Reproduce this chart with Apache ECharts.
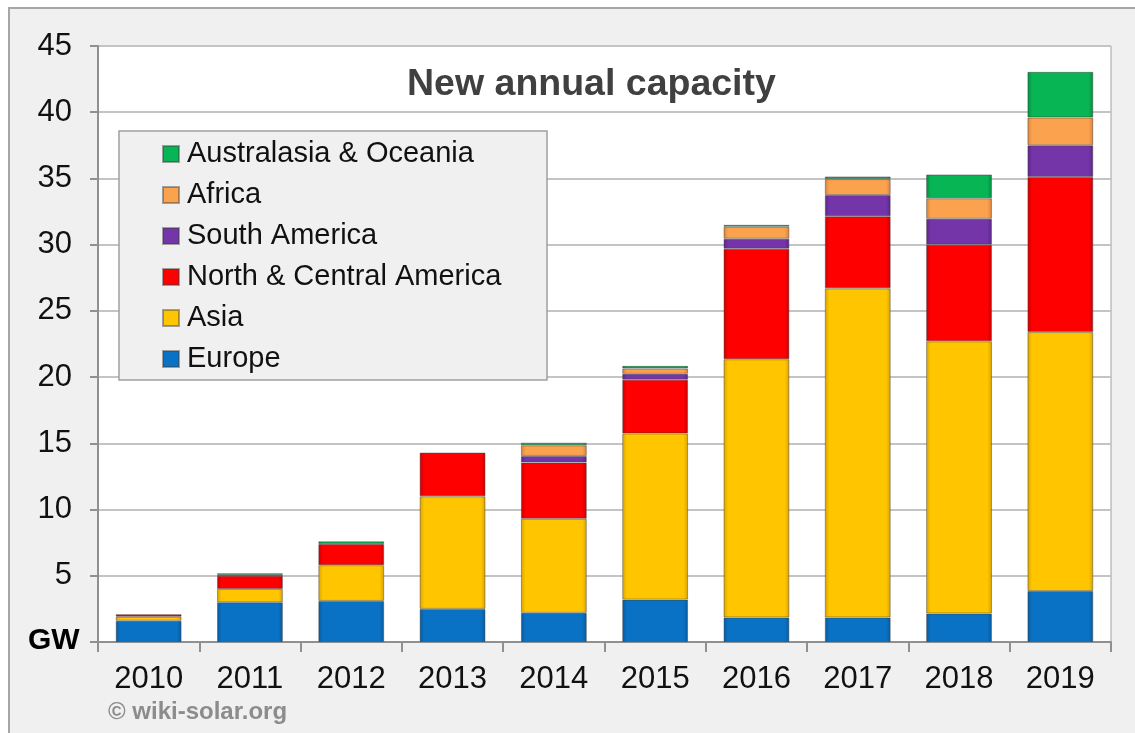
<!DOCTYPE html>
<html>
<head>
<meta charset="utf-8">
<script src="https://cdn.jsdelivr.net/npm/echarts@6/dist/echarts.min.js"></script>
<style>
html,body{margin:0;padding:0;background:#fff;}
#wrap{position:relative;width:1135px;height:733px;overflow:hidden;background:#fff;}
#frame{position:absolute;left:8px;top:7px;width:1140px;height:740px;background:#f0f0f0;border:2px solid #a6a6a6;box-sizing:border-box;}
#chart{position:absolute;left:0;top:0;width:1135px;height:733px;}
</style>
</head>
<body>
<div id="wrap"><div id="frame"></div><div id="chart"></div></div>
<script>
var years = ['2010','2011','2012','2013','2014','2015','2016','2017','2018','2019'];
var europe = [1.6, 3.0, 3.1, 2.5, 2.2, 3.2, 1.85, 1.85, 2.15, 3.85];
var asia = [0.3, 1.0, 2.7, 8.5, 7.1, 12.55, 19.5, 24.85, 20.55, 19.55];
var northCentralAmerica = [0.2, 1.0, 1.6, 3.3, 4.25, 4.05, 8.35, 5.45, 7.3, 11.7];
var southAmerica = [0, 0, 0, 0, 0.5, 0.45, 0.75, 1.6, 1.95, 2.4];
var africa = [0, 0.05, 0, 0, 0.8, 0.4, 0.9, 1.2, 1.55, 2.1];
var australasia = [0, 0.15, 0.2, 0, 0.2, 0.2, 0.15, 0.2, 1.8, 3.45];
var yTicks = [0, 5, 10, 15, 20, 25, 30, 35, 40, 45];

var chart = echarts.init(document.getElementById('chart'), null, {renderer: 'canvas'});

function grad(mid, dark) {
  return new echarts.graphic.LinearGradient(0, 0, 1, 0, [
    {offset: 0, color: dark}, {offset: 0.07, color: mid},
    {offset: 0.93, color: mid}, {offset: 1, color: dark}
  ]);
}
function mk(name, data, mid, dark) {
  return {
    name: name, type: 'bar', stack: 'total',
    data: data.map(function (v) { return v === 0 ? null : v; }),
    barWidth: '65%',
    itemStyle: {color: grad(mid, dark), borderColor: 'rgba(60,60,60,0.45)', borderWidth: 1},
    emphasis: {disabled: true}
  };
}
var font = '"Liberation Sans", Arial, sans-serif';
chart.setOption({
  animation: false,
  textStyle: {fontFamily: font},
  grid: {left: 98, right: 24, top: 46, bottom: 91, show: true, backgroundColor: '#ffffff', borderColor: '#a0a0a0', borderWidth: 1},
  graphic: [
    {type: 'text', left: 407, top: 66, z: 10, style: {text: 'New annual capacity', font: 'bold 37.5px ' + font, fill: '#404040'}},
    {type: 'rect', shape: {x: 119, y: 131, width: 428, height: 249}, z: 3, style: {fill: '#f0f0f0', stroke: '#a0a0a0', lineWidth: 1.5}},
    {type: 'text', left: 108, top: 700, z: 10, style: {text: '© wiki-solar.org', font: 'bold 24px ' + font, fill: '#8c8c8c'}},
    {type: 'text', left: 28, top: 626, z: 10, style: {text: 'GW', font: 'bold 30px ' + font, fill: '#000'}}
  ],
  legend: {
    orient: 'vertical', left: 157, top: 133, z: 10,
    icon: 'rect', itemWidth: 16, itemHeight: 16, itemGap: 9,
    textStyle: {fontSize: 29, color: '#111', lineHeight: 32, fontFamily: font, padding: [0, 0, 0, 3]},
    data: ['Australasia & Oceania', 'Africa', 'South America', 'North & Central America', 'Asia', 'Europe'],
    selectedMode: false
  },
  xAxis: {
    type: 'category', data: years,
    axisLine: {lineStyle: {color: '#909090', width: 2}},
    axisTick: {show: true, length: 10, lineStyle: {color: '#909090', width: 2}},
    axisLabel: {fontSize: 31, color: '#111', margin: 22, fontFamily: font},
    splitLine: {show: false}
  },
  yAxis: {
    type: 'value', min: 0, max: 45, interval: 5,
    axisLine: {show: true, lineStyle: {color: '#909090', width: 2}},
    axisTick: {show: true, length: 8, lineStyle: {color: '#909090', width: 2}},
    splitLine: {lineStyle: {color: '#c4c4c4', width: 2}},
    axisLabel: {
      fontSize: 31, color: '#111', margin: 26, fontFamily: font,
      formatter: function (v) { return v === 0 ? '' : (yTicks.indexOf(v) >= 0 ? String(v) : ''); }
    }
  },
  series: [
    mk('Europe', europe, '#0a72c4', '#075a9c'),
    mk('Asia', asia, '#ffc600', '#d9a200'),
    mk('North & Central America', northCentralAmerica, '#ff0000', '#c80000'),
    mk('South America', southAmerica, '#7435a8', '#5a2586'),
    mk('Africa', africa, '#fba24f', '#d9823a'),
    mk('Australasia & Oceania', australasia, '#07b554', '#058a40')
  ]
});
</script>
</body>
</html>
